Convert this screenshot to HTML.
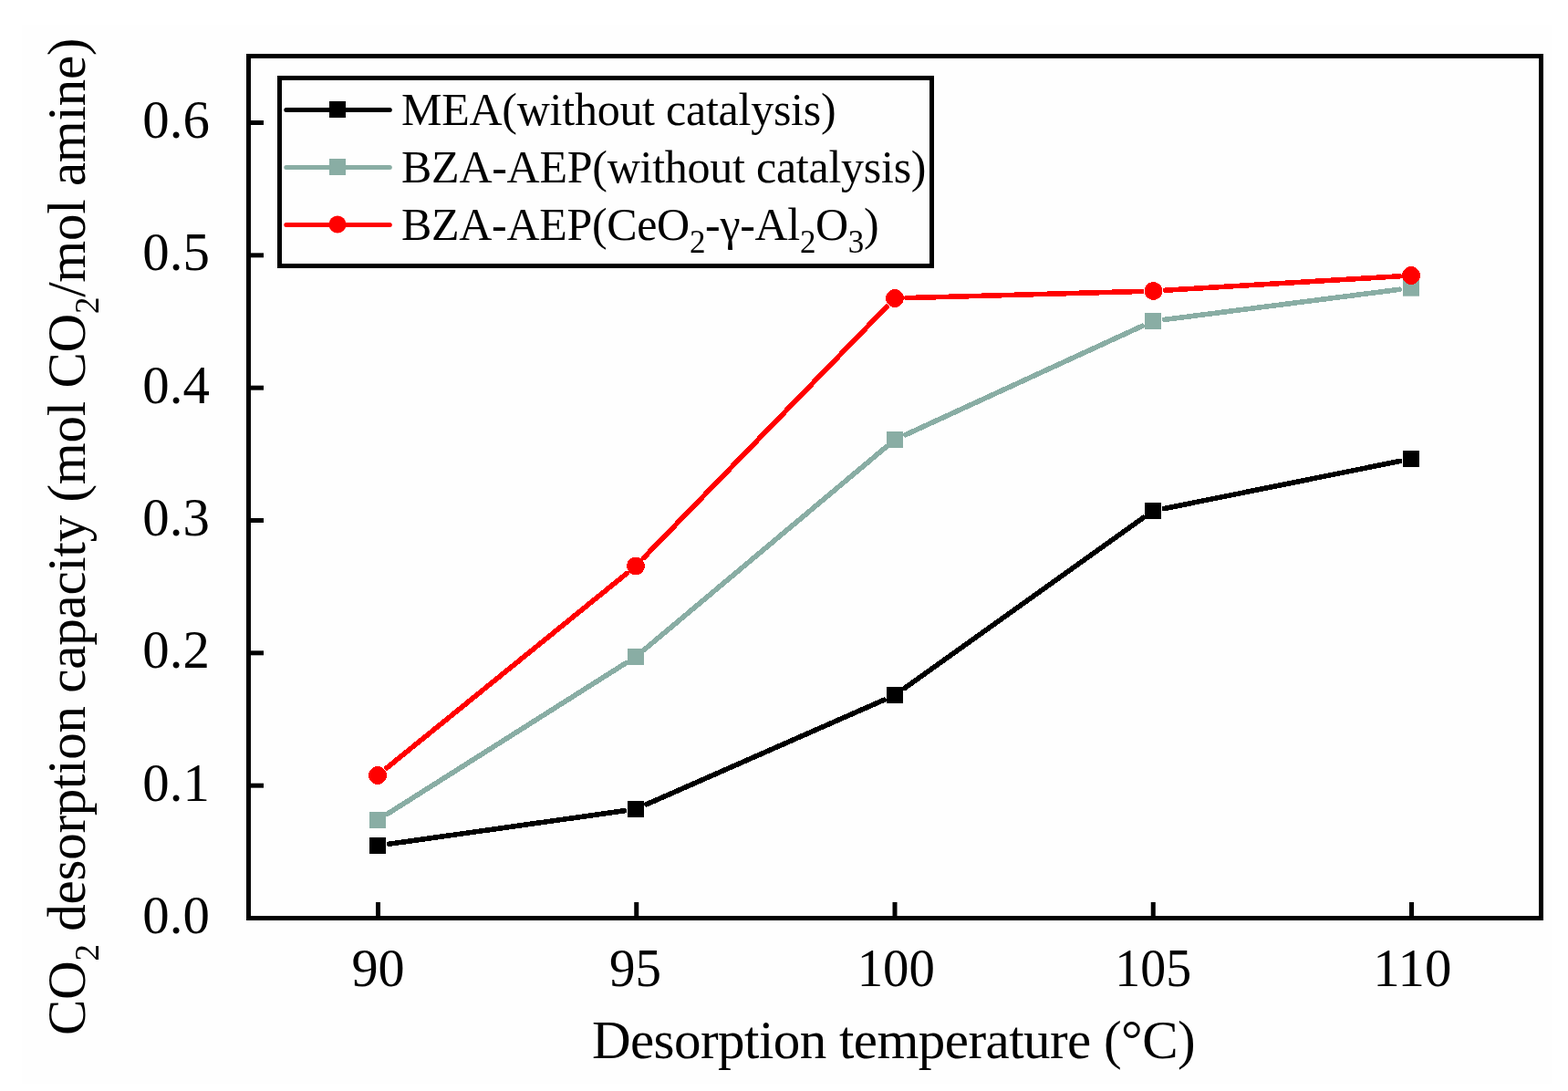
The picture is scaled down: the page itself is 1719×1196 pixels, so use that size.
<!DOCTYPE html>
<html><head><meta charset="utf-8"><style>
html,body{margin:0;padding:0;background:#fff;}
svg{display:block;}
text{font-family:"Liberation Serif","Times New Roman",serif;fill:#000;}
</style></head><body>
<svg width="1719" height="1196" viewBox="0 0 1719 1196">
<rect x="0" y="0" width="1719" height="1196" fill="#fff"/>
<rect x="24" y="27" width="1678" height="1161" fill="#fefefe"/>
<g font-size="60"><text x="229.8" y="1023.0" text-anchor="end" textLength="73.5" lengthAdjust="spacingAndGlyphs">0.0</text><text x="229.8" y="877.7" text-anchor="end" textLength="73.5" lengthAdjust="spacingAndGlyphs">0.1</text><text x="229.8" y="732.3" text-anchor="end" textLength="73.5" lengthAdjust="spacingAndGlyphs">0.2</text><text x="229.8" y="587.0" text-anchor="end" textLength="73.5" lengthAdjust="spacingAndGlyphs">0.3</text><text x="229.8" y="441.7" text-anchor="end" textLength="73.5" lengthAdjust="spacingAndGlyphs">0.4</text><text x="229.8" y="296.3" text-anchor="end" textLength="73.5" lengthAdjust="spacingAndGlyphs">0.5</text><text x="229.8" y="151.0" text-anchor="end" textLength="73.5" lengthAdjust="spacingAndGlyphs">0.6</text><text x="414.6" y="1081" text-anchor="middle" textLength="58.18" lengthAdjust="spacingAndGlyphs">90</text><text x="696.4" y="1081" text-anchor="middle" textLength="56.95" lengthAdjust="spacingAndGlyphs">95</text><text x="982.3" y="1081" text-anchor="middle" textLength="85.23" lengthAdjust="spacingAndGlyphs">100</text><text x="1264.2" y="1081" text-anchor="middle" textLength="83.74" lengthAdjust="spacingAndGlyphs">105</text><text x="1548.3" y="1081" text-anchor="middle" textLength="86.13" lengthAdjust="spacingAndGlyphs">110</text></g>
<text x="648.9" y="1160" font-size="59" textLength="661.7" lengthAdjust="spacing">Desorption temperature (°C)</text>
<text transform="translate(93,1135) rotate(-90)" font-size="59" textLength="1093.5" lengthAdjust="spacing">CO<tspan font-size="37" dy="15">2</tspan><tspan dy="-15"> desorption capacity (mol CO</tspan><tspan font-size="37" dy="15">2</tspan><tspan dy="-15">/mol amine)</tspan></text>
<g stroke="#000" stroke-width="5.6" stroke-linecap="round" shape-rendering="crispEdges"><line x1="426.7" y1="925.2" x2="684.3" y2="888.8"/><line x1="708.7" y1="881.8" x2="969.3" y2="767.2"/><line x1="991.4" y1="754.6" x2="1253.6" y2="567.4"/><line x1="1276.5" y1="557.5" x2="1534.5" y2="505.5"/></g><g fill="#000"><rect x="405.0" y="918.0" width="18" height="18"/><rect x="688.0" y="878.0" width="18" height="18"/><rect x="972.0" y="753.0" width="18" height="18"/><rect x="1255.0" y="551.0" width="18" height="18"/><rect x="1538.0" y="494.0" width="18" height="18"/></g><g stroke="#89ADA4" stroke-width="5.6" stroke-linecap="round" shape-rendering="crispEdges"><line x1="424.8" y1="892.2" x2="686.2" y2="726.8"/><line x1="706.8" y1="711.8" x2="971.2" y2="490.2"/><line x1="992.6" y1="476.7" x2="1252.4" y2="357.3"/><line x1="1276.7" y1="350.4" x2="1534.3" y2="317.3"/></g><g fill="#89ADA4"><rect x="405.0" y="890.0" width="18" height="18"/><rect x="688.0" y="711.0" width="18" height="18"/><rect x="972.0" y="473.0" width="18" height="18"/><rect x="1255.0" y="343.0" width="18" height="18"/><rect x="1538.0" y="306.7" width="18" height="18"/></g><g stroke="#f00" stroke-width="5.6" stroke-linecap="round" shape-rendering="crispEdges"><line x1="423.9" y1="841.9" x2="687.1" y2="628.6"/><line x1="705.9" y1="611.3" x2="972.1" y2="336.2"/><line x1="993.8" y1="326.6" x2="1251.7" y2="319.4"/><line x1="1277.3" y1="318.2" x2="1534.2" y2="302.8"/></g><g fill="#f00" shape-rendering="crispEdges"><circle cx="414.0" cy="850.0" r="10"/><circle cx="697.0" cy="620.5" r="10"/><circle cx="981.0" cy="327.0" r="10"/><circle cx="1264.5" cy="319.0" r="10"/><circle cx="1547.0" cy="302.0" r="10"/></g>
<g stroke="#000" stroke-width="5" fill="none">
<rect x="272.5" y="61.5" width="1417" height="945"/>
<line x1="272.5" y1="861.17" x2="289" y2="861.17"/><line x1="272.5" y1="715.83" x2="289" y2="715.83"/><line x1="272.5" y1="570.50" x2="289" y2="570.50"/><line x1="272.5" y1="425.17" x2="289" y2="425.17"/><line x1="272.5" y1="279.84" x2="289" y2="279.84"/><line x1="272.5" y1="134.50" x2="289" y2="134.50"/><line x1="414.50" y1="989" x2="414.50" y2="1006.5"/><line x1="697.75" y1="989" x2="697.75" y2="1006.5"/><line x1="981.00" y1="989" x2="981.00" y2="1006.5"/><line x1="1264.25" y1="989" x2="1264.25" y2="1006.5"/><line x1="1547.50" y1="989" x2="1547.50" y2="1006.5"/>
</g>
<g>
<rect x="306.5" y="85.5" width="715" height="206" fill="none" stroke="#000" stroke-width="5"/>
<g stroke-width="5" stroke-linecap="round">
<line x1="313.8" y1="120.5" x2="427.3" y2="120.5" stroke="#000"/>
<line x1="313.8" y1="183.5" x2="427.3" y2="183.5" stroke="#89ADA4"/>
<line x1="313.8" y1="246.5" x2="427.3" y2="246.5" stroke="#f00"/>
</g>
<rect x="361" y="111" width="18" height="18" fill="#000"/>
<rect x="361" y="174" width="18" height="18" fill="#89ADA4"/>
<circle cx="370" cy="246" r="9.5" fill="#f00"/>
<g font-size="50">
<text x="440" y="137" textLength="476.6" lengthAdjust="spacing">MEA(without catalysis)</text>
<text x="440" y="200" textLength="575.5" lengthAdjust="spacing">BZA-AEP(without catalysis)</text>
<text x="440" y="263" textLength="523.7" lengthAdjust="spacing">BZA-AEP(CeO<tspan font-size="35" dy="14">2</tspan><tspan dy="-14">-γ-Al</tspan><tspan font-size="35" dy="14">2</tspan><tspan dy="-14">O</tspan><tspan font-size="35" dy="14">3</tspan><tspan dy="-14">)</tspan></text>
</g>
</g>
</svg>
</body></html>
